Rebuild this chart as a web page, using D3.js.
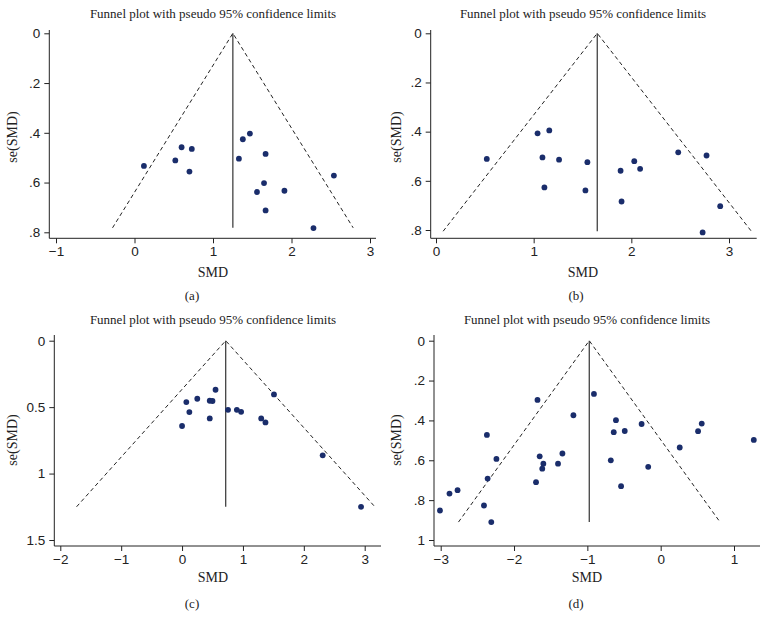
<!DOCTYPE html>
<html>
<head>
<meta charset="utf-8">
<script src="https://cdn.jsdelivr.net/npm/d3@7/dist/d3.min.js"></script>
<style>
    body { margin: 0; background: #fff; }
    svg { font-family: "Liberation Serif", "DejaVu Serif", serif; }
    .tick line { stroke: #222; }
    .tick text { fill: #222; font-size: 13.5px; }
</style>
</head>
<body>
<div id="chart"></div>
<script>
// ---- data ----
var titleText = "Funnel plot with pseudo 95% confidence limits";

var smdA = [0.12, 0.52, 0.60, 0.73, 0.70, 1.33, 1.38, 1.47, 1.67, 2.54, 1.65, 1.56, 1.91, 1.67, 2.28];
var seA  = [0.533, 0.511, 0.458, 0.465, 0.556, 0.504, 0.426, 0.403, 0.485, 0.572, 0.602, 0.638, 0.633, 0.712, 0.783];

var smdB = [0.52, 1.04, 1.16, 1.09, 1.26, 1.55, 1.11, 1.53, 1.89, 2.03, 2.09, 1.90, 2.48, 2.77, 2.91, 2.73];
var seB  = [0.511, 0.407, 0.395, 0.505, 0.514, 0.524, 0.627, 0.639, 0.559, 0.520, 0.551, 0.684, 0.484, 0.497, 0.703, 0.810];

var smdC = [0.00, 0.07, 0.12, 0.25, 0.455, 0.50, 0.55, 0.455, 0.755, 0.90, 0.97, 1.30, 1.37, 1.51, 2.31, 2.94];
var seC  = [0.642, 0.462, 0.537, 0.437, 0.452, 0.454, 0.369, 0.585, 0.520, 0.520, 0.535, 0.585, 0.615, 0.404, 0.863, 1.25];

var smdD = [-3.01, -2.88, -2.77, -2.37, -2.24, -2.36, -2.41, -2.31, -1.68, -1.65, -1.60, -1.615, -1.70, -1.34,
            -1.40, -1.19, -0.91, -0.61, -0.64, -0.49, -0.68, -0.54, -0.26, -0.17, 0.26, 0.51, 0.56, 1.27];
var seD  = [0.852, 0.767, 0.750, 0.473, 0.593, 0.692, 0.827, 0.910, 0.297, 0.580, 0.617, 0.642, 0.710, 0.566,
            0.617, 0.374, 0.267, 0.399, 0.459, 0.453, 0.600, 0.730, 0.418, 0.633, 0.536, 0.454, 0.416, 0.498];

// pooled estimate and largest se for each funnel
var pooled = [1.253, 1.651, 0.717, -0.974];
var seMax  = [0.782, 0.805, 1.25, 0.91];

var xTicksA = [-1, 0, 1, 2, 3], yTicksA = [0, 0.2, 0.4, 0.6, 0.8];
var xTicksB = [0, 1, 2, 3],     yTicksB = [0, 0.2, 0.4, 0.6, 0.8];
var xTicksC = [-2, -1, 0, 1, 2, 3], yTicksC = [0, 0.5, 1, 1.5];
var xTicksD = [-3, -2, -1, 0, 1],   yTicksD = [0, 0.2, 0.4, 0.6, 0.8, 1];
var panelLabels = ["(a)", "(b)", "(c)", "(d)"];

// ---- layout of each panel (pixels) ----
var panels = [
    { smd: smdA, se: seA, xt: xTicksA, yt: yTicksA, xd: [-1, 3], xr: [56, 370], yd: [0, 0.8], yr: [33.3, 232.3],
      axX: 49.3, axY: 238.3, axTop: 30, axRight: 376, cx: 213, titleY: 17.5, seX: 12, seY: 137, smdX: 213, smdY: 277, labX: 192, labY: 300 },
    { smd: smdB, se: seB, xt: xTicksB, yt: yTicksB, xd: [0, 3], xr: [436, 729], yd: [0, 0.8], yr: [33.3, 230],
      axX: 430.7, axY: 238.3, axTop: 30, axRight: 756.7, cx: 583, titleY: 17.5, seX: 396, seY: 137, smdX: 583, smdY: 277, labX: 576, labY: 300 },
    { smd: smdC, se: seC, xt: xTicksC, yt: yTicksC, xd: [-2, 3], xr: [60.3, 364.7], yd: [0, 1.5], yr: [340.7, 540],
      axX: 54.3, axY: 546, axTop: 335, axRight: 381, cx: 213, titleY: 324, seX: 12, seY: 440, smdX: 213, smdY: 582, labX: 192, labY: 608 },
    { smd: smdD, se: seD, xt: xTicksD, yt: yTicksD, xd: [-3, 1], xr: [440.7, 734], yd: [0, 1], yr: [340.7, 540],
      axX: 434, axY: 546, axTop: 335, axRight: 760, cx: 587, titleY: 324, seX: 396, seY: 440, smdX: 587, smdY: 582, labX: 576, labY: 608 }
];

var svg = d3.select("#chart").append("svg")
    .attr("width", 768)
    .attr("height", 631);

function fmtY(v) {
    if (v === 0) return "0";
    var s = String(v);
    if (v < 1 && s.indexOf("0.") === 0 && s.length === 3) return s.slice(1); // Stata style ".2"
    return s;
}
function fmtX(v) {
    return v < 0 ? "\u2212" + Math.abs(v) : String(v);
}

panels.forEach(function(p, i) {
    var g = svg.append("g");
    var x = d3.scaleLinear().domain(p.xd).range(p.xr);
    var y = d3.scaleLinear().domain(p.yd).range(p.yr);
    var yFmt = (i === 2) ? function(v) { return String(v); } : fmtY;

    // title
    g.append("text")
        .attr("x", p.cx).attr("y", p.titleY)
        .attr("text-anchor", "middle")
        .style("font-size", "13px")
        .style("fill", "#222")
        .text(titleText);

    // axes
    var yAxis = g.append("g")
        .attr("transform", "translate(" + p.axX + ",0)")
        .call(d3.axisLeft(y).tickValues(p.yt).tickFormat(yFmt).tickSize(5).tickSizeOuter(0));
    yAxis.select(".domain").remove();
    yAxis.selectAll(".tick text").attr("dx", "-1");

    var xAxis = g.append("g")
        .attr("transform", "translate(0," + p.axY + ")")
        .call(d3.axisBottom(x).tickValues(p.xt).tickFormat(fmtX).tickSize(5).tickSizeOuter(0));
    xAxis.select(".domain").remove();

    g.append("line")
        .attr("x1", p.axX).attr("x2", p.axX)
        .attr("y1", p.axTop).attr("y2", p.axY)
        .attr("stroke", "#222").attr("stroke-width", 1);
    g.append("line")
        .attr("x1", p.axX).attr("x2", p.axRight)
        .attr("y1", p.axY).attr("y2", p.axY)
        .attr("stroke", "#222").attr("stroke-width", 1);

    // axis titles
    g.append("text")
        .attr("transform", "translate(" + p.seX + "," + p.seY + ") rotate(-90)")
        .attr("dy", "0.35em")
        .attr("text-anchor", "middle")
        .style("font-size", "14px").style("fill", "#222")
        .text("se(SMD)");
    g.append("text")
        .attr("x", p.smdX).attr("y", p.smdY)
        .attr("text-anchor", "middle")
        .style("font-size", "14px").style("fill", "#222")
        .text("SMD");
    g.append("text")
        .attr("x", p.labX).attr("y", p.labY)
        .attr("text-anchor", "middle")
        .style("font-size", "13px").style("fill", "#222")
        .text(panelLabels[i]);

    // funnel: pseudo 95% limits
    var th = pooled[i], sm = seMax[i];
    var funnel = [[th - 1.96 * sm, sm], [th, 0], [th + 1.96 * sm, sm]];
    g.append("path")
        .attr("d", d3.line().x(function(d) { return x(d[0]); }).y(function(d) { return y(d[1]); })(funnel))
        .attr("fill", "none")
        .attr("stroke", "#222")
        .attr("stroke-width", 1)
        .attr("stroke-dasharray", "4,3");
    g.append("line")
        .attr("x1", x(th)).attr("x2", x(th))
        .attr("y1", y(0)).attr("y2", y(sm))
        .attr("stroke", "#333").attr("stroke-width", 1.2);

    // studies
    g.selectAll("circle.pt")
        .data(p.smd.map(function(v, k) { return [v, p.se[k]]; }))
        .enter().append("circle")
        .attr("class", "pt")
        .attr("cx", function(d) { return x(d[0]); })
        .attr("cy", function(d) { return y(d[1]); })
        .attr("r", 2.9)
        .attr("fill", "#1a2d6b");
});
</script>
</body>
</html>
